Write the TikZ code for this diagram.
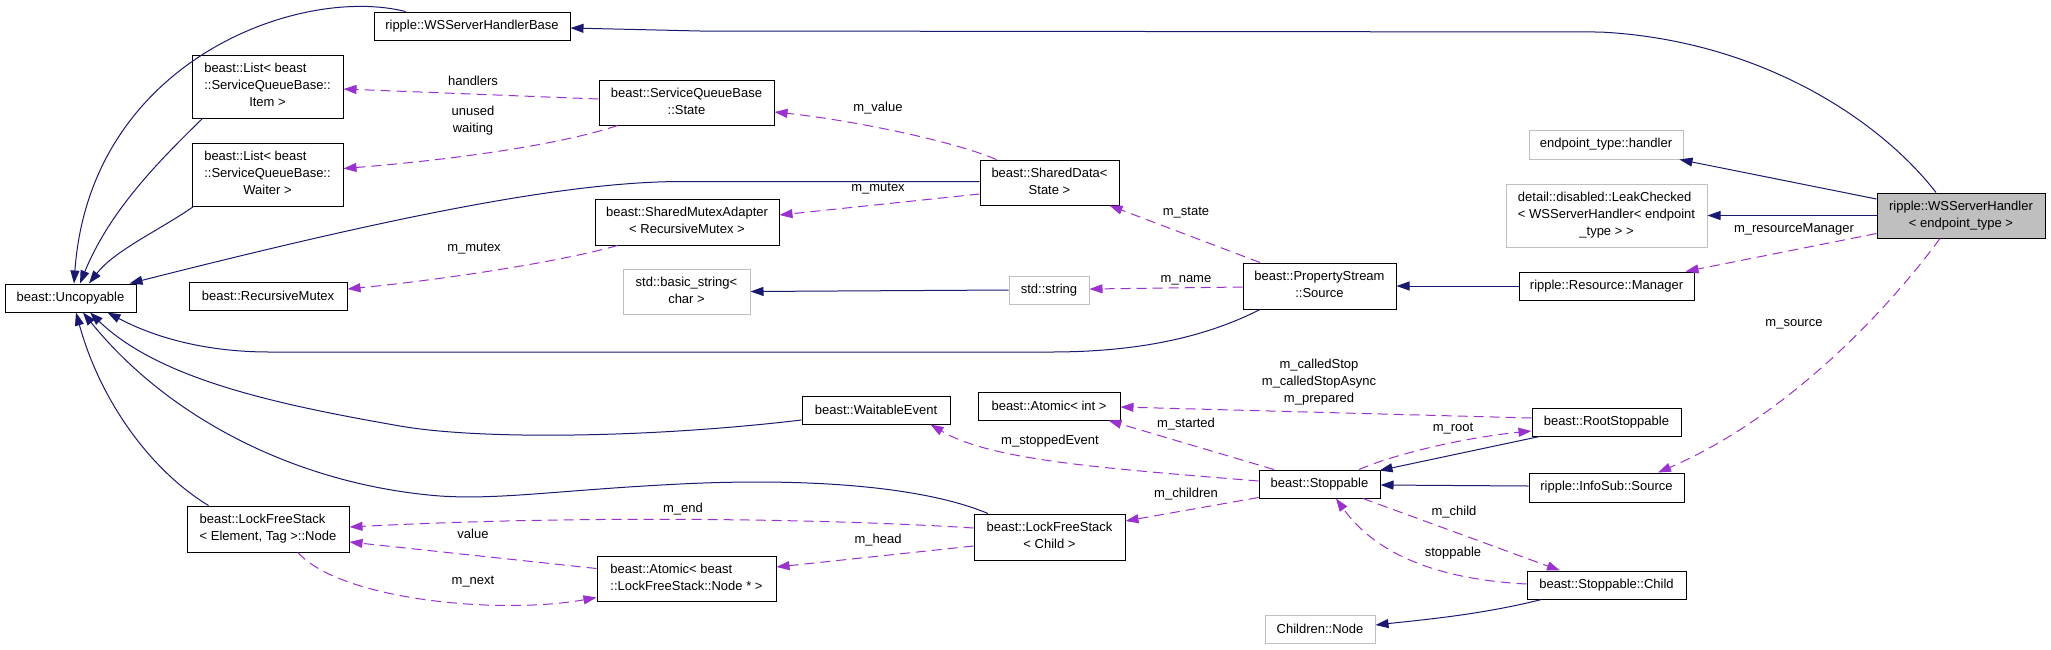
\documentclass[tikz,border=0pt]{standalone}
\usepackage{fontspec}
\setmainfont{Liberation Sans}
\usetikzlibrary{arrows.meta,calc}
\definecolor{edgeblue}{HTML}{191970}
\definecolor{edgepurple}{HTML}{9A32CD}
\definecolor{boxgray}{HTML}{BFBFBF}
\newcommand{\mlines}[2]{\begin{tabular}{@{}l@{}}#1\\\multicolumn{1}{@{}c@{}}{#2}\end{tabular}}
\tikzset{
  box/.style={draw=black, line width=1pt, inner sep=0pt, font=\fontsize{13}{17}\selectfont},
  graybox/.style={box, draw=boxgray},
  inh/.style={draw=edgeblue, line width=1pt, -{Triangle[length=13pt,width=9pt]}},
  mem/.style={draw=edgepurple, line width=1pt, dash pattern=on 10pt off 6pt, -{Triangle[length=13pt,width=9pt]}},
  lbl/.style={font=\fontsize{13}{17}\selectfont, inner sep=0pt}
}
\begin{document}
\begin{tikzpicture}[x=1pt,y=-1pt]
\useasboundingbox (0,0) rectangle (2051,649);
\fill[white] (0,0) rectangle (2051,649);

% nodes
\node[box,minimum width=196pt,minimum height=28pt] (whb) at (472,26) {ripple::WSServerHandlerBase};
\node[box,minimum width=151pt,minimum height=63pt] (listItem) at (267.5,86.5) {\mlines{beast::List< beast\\::ServiceQueueBase::}{Item >}};
\node[box,minimum width=151pt,minimum height=63pt] (listWaiter) at (267.5,174.5) {\mlines{beast::List< beast\\::ServiceQueueBase::}{Waiter >}};
\node[box,minimum width=175pt,minimum height=45pt] (sqState) at (686.5,102.5) {\mlines{beast::ServiceQueueBase}{::State}};
\node[box,minimum width=184pt,minimum height=46pt] (smAdapter) at (687,222) {\mlines{beast::SharedMutexAdapter}{< RecursiveMutex >}};
\node[graybox,minimum width=127pt,minimum height=45pt] (basicString) at (686.5,291.5) {\mlines{std::basic\_string<}{char >}};
\node[box,minimum width=131pt,minimum height=28pt] (uncopyable) at (70.5,298) {beast::Uncopyable};
\node[box,minimum width=158pt,minimum height=28pt] (recMutex) at (268,296) {beast::RecursiveMutex};
\node[box,minimum width=139pt,minimum height=45pt] (sharedData) at (1049.5,182.5) {\mlines{beast::SharedData<}{State >}};
\node[graybox,minimum width=80pt,minimum height=28pt] (stdString) at (1049,290) {std::string};
\node[box,minimum width=153pt,minimum height=46pt] (psSource) at (1319.5,286) {\mlines{beast::PropertyStream}{::Source}};
\node[graybox,minimum width=154pt,minimum height=29pt] (epHandler) at (1606,144.5) {endpoint\_type::handler};
\node[graybox,minimum width=201pt,minimum height=63pt] (leakChecked) at (1606.5,215.5) {\mlines{detail::disabled::LeakChecked\\< WSServerHandler< endpoint}{\_type > >}};
\node[box,minimum width=175pt,minimum height=28pt] (resManager) at (1606.5,286) {ripple::Resource::Manager};
\node[box,fill=boxgray,minimum width=168pt,minimum height=45pt] (wssh) at (1961,215.5) {\mlines{ripple::WSServerHandler}{< endpoint\_type >}};
\node[box,minimum width=148pt,minimum height=28pt] (waitable) at (876,410) {beast::WaitableEvent};
\node[box,minimum width=142pt,minimum height=28pt] (atomicInt) at (1049,406) {beast::Atomic< int >};
\node[box,minimum width=121pt,minimum height=28pt] (stoppable) at (1319.5,484) {beast::Stoppable};
\node[box,minimum width=151pt,minimum height=46pt] (lfsChild) at (1049.5,537) {\mlines{beast::LockFreeStack}{< Child >}};
\node[box,minimum width=179pt,minimum height=45pt] (atomicNode) at (686.5,578.5) {\mlines{beast::Atomic< beast}{::LockFreeStack::Node * >}};
\node[box,minimum width=162pt,minimum height=46pt] (lfsNode) at (268,529) {\mlines{beast::LockFreeStack}{< Element, Tag >::Node}};
\node[box,minimum width=149pt,minimum height=28pt] (rootStoppable) at (1606.5,422) {beast::RootStoppable};
\node[box,minimum width=155pt,minimum height=29pt] (infoSub) at (1606.5,487.5) {ripple::InfoSub::Source};
\node[box,minimum width=159pt,minimum height=28pt] (child) at (1606.5,585) {beast::Stoppable::Child};
\node[graybox,minimum width=110pt,minimum height=28pt] (childrenNode) at (1320,629) {Children::Node};

% inheritance edges
\draw[inh] ($(wssh.north)+(-25,0)$) .. controls (1880,120) and (1760,40) .. (1600,32) -- (700,31) -- ($(whb.east)+(0,2)$);
\draw[inh] ($(whb.north west)+(32,0)$) .. controls (300,-15) and (90,60) .. ($(uncopyable.north)+(3.5,0)$);
\draw[inh] ($(listItem.south west)+(11,0)$) .. controls (160,160) and (110,210) .. ($(uncopyable.north)+(9.5,0)$);
\draw[inh] ($(listWaiter.south west)+(2,0)$) .. controls (160,230) and (115,250) .. ($(uncopyable.north)+(18.5,0)$);
\draw[inh] ($(sharedData.west)+(0,-1)$) -- (680,181.5) .. controls (560,182) and (380,220) .. ($(uncopyable.north east)+(-7,0)$);
\draw[inh] ($(psSource.south)+(-59.5,0)$) .. controls (1200,340) and (1130,352) .. (1050,352) -- (270,352) .. controls (200,352) and (150,335) .. ($(uncopyable.south)+(37,0)$);
\draw[inh] ($(waitable.west)+(0,10)$) .. controls (650,438) and (480,440) .. (400,426) .. controls (280,405) and (160,380) .. ($(uncopyable.south)+(19.5,0)$);
\draw[inh] ($(lfsChild.north)+(-61.5,0)$) .. controls (920,485) and (800,478) .. (680,484) .. controls (560,490) and (500,500) .. (440,496) .. controls (300,485) and (170,420) .. ($(uncopyable.south)+(12.5,0)$);
\draw[inh] ($(lfsNode.north west)+(22,0)$) .. controls (150,470) and (100,400) .. ($(uncopyable.south)+(5.5,0)$);
\draw[inh] (stdString.west) -- (basicString.east);
\draw[inh] (resManager.west) -- (psSource.east);
\draw[inh] ($(wssh.west)+(0,-16.5)$) -- ($(epHandler.south east)+(-4,0)$);
\draw[inh] (wssh.west) -- (leakChecked.east);
\draw[inh] ($(rootStoppable.south west)+(8,0)$) -- ($(stoppable.north east)+(-1,1)$);
\draw[inh] ($(infoSub.west)+(0,-1.5)$) -- ($(stoppable.east)+(0,1)$);
\draw[inh] ($(child.south west)+(15,0)$) .. controls (1480,615) and (1420,620) .. ($(childrenNode.east)+(0,-4)$);

% member edges
\draw[mem] ($(sqState.west)+(0,-3.5)$) -- ($(listItem.east)+(0,2.5)$);
\draw[mem] ($(sqState.south west)+(19,0)$) .. controls (560,145) and (450,160) .. ($(listWaiter.east)+(0,-6)$);
\draw[mem] ($(sharedData.north west)+(17,0)$) .. controls (950,140) and (850,120) .. ($(sqState.east)+(0,9.5)$);
\draw[mem] ($(sharedData.west)+(0,11.5)$) -- ($(smAdapter.east)+(0,-7)$);
\draw[mem] ($(smAdapter.south west)+(23,0)$) .. controls (560,262) and (440,280) .. ($(recMutex.east)+(0,-7)$);
\draw[mem] ($(psSource.north)+(-59.5,0)$) -- ($(sharedData.south east)+(-10,0)$);
\draw[mem] ($(psSource.west)+(0,1)$) -- ($(stdString.east)+(0,-1)$);
\draw[mem] ($(wssh.south west)+(0,-5)$) -- ($(resManager.north east)+(-9,0)$);
\draw[mem] ($(wssh.south)+(-21,0)$) .. controls (1880,320) and (1780,420) .. ($(infoSub.north)+(51.5,0)$);
\draw[mem] ($(rootStoppable.west)+(0,-4)$) -- ($(atomicInt.east)+(0,1)$);
\draw[mem] ($(stoppable.north)+(39.5,0)$) .. controls (1400,452) and (1470,437) .. ($(rootStoppable.west)+(0,9)$);
\draw[mem] ($(stoppable.north)+(-45.5,0)$) -- ($(atomicInt.south east)+(-12,0)$);
\draw[mem] ($(stoppable.west)+(0,-3)$) .. controls (1100,468) and (990,460) .. ($(waitable.south east)+(-20,0)$);
\draw[mem] ($(stoppable.south west)+(0,-1)$) -- ($(lfsChild.east)+(0,-16)$);
\draw[mem] ($(lfsChild.west)+(0,-9)$) .. controls (850,520) and (600,514) .. ($(lfsNode.east)+(0,-2)$);
\draw[mem] ($(lfsChild.west)+(0,9)$) -- ($(atomicNode.east)+(0,-11.5)$);
\draw[mem] ($(atomicNode.west)+(0,-10)$) -- ($(lfsNode.east)+(0,13)$);
\draw[mem] ($(lfsNode.south)+(30,0)$) .. controls (340,600) and (500,615) .. ($(atomicNode.south west)+(0,-4)$);
\draw[mem] ($(stoppable.south)+(43.5,0)$) -- ($(child.north)+(-46.5,0)$);
\draw[mem] ($(child.west)+(0,-1)$) .. controls (1450,580) and (1380,560) .. ($(stoppable.south)+(16.5,0)$);

% labels
\node[lbl] (lHandlers) at (473,81) {handlers};
\node[lbl,align=center] (lUnused) at (473,120.5) {unused\\waiting};
\node[lbl] (lMutexA) at (474,249) {m\_mutex};
\node[lbl] (lValue) at (878,108) {m\_value};
\node[lbl] (lMutexB) at (878,189) {m\_mutex};
\node[lbl] (lState) at (1186,213) {m\_state};
\node[lbl] (lName) at (1186,280) {m\_name};
\node[lbl] (lResMan) at (1794,229) {m\_resourceManager};
\node[lbl] (lSource) at (1794,324) {m\_source};
\node[lbl,align=center] (lCalled) at (1319,382) {m\_calledStop\\m\_calledStopAsync\\m\_prepared};
\node[lbl] (lStarted) at (1186,424) {m\_started};
\node[lbl] (lStopped) at (1050,441) {m\_stoppedEvent};
\node[lbl] (lChildren) at (1186,494) {m\_children};
\node[lbl] (lEnd) at (683,509) {m\_end};
\node[lbl] (lHead) at (878,540) {m\_head};
\node[lbl] (lValueB) at (473,534) {value};
\node[lbl] (lNext) at (473,582) {m\_next};
\node[lbl] (lRoot) at (1453,429) {m\_root};
\node[lbl] (lChild) at (1454,512) {m\_child};
\node[lbl] (lStoppable) at (1453,553) {stoppable};
\end{tikzpicture}
\end{document}
